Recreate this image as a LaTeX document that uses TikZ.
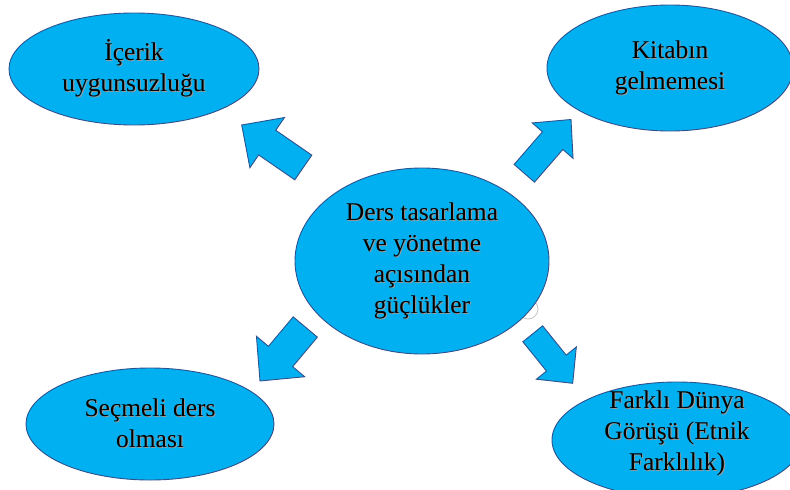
\documentclass[tikz,border=0pt]{standalone}
\usepackage{fontspec}
\setmainfont{Liberation Serif}
\usetikzlibrary{shapes.geometric,calc}

\definecolor{bubble}{HTML}{00B0F0}
\definecolor{rim}{HTML}{2F528F}

% one line of text with a soft drop shadow
\newcommand\shline[1]{\leavevmode\rlap{\kern1.1pt\raisebox{-1.1pt}{\textcolor{black!40}{#1}}}#1}

\tikzset{
  bubble/.style={ellipse, draw=rim, line width=0.9pt, fill=bubble,
    inner sep=0pt, align=center, text=black,
    font=\fontsize{25.5}{31}\selectfont},
  blockarrow/.style={draw=rim, line width=0.9pt, fill=bubble, line join=miter}
}

% block arrow from tail coordinate #1 to tip coordinate #2
% #3 shaft half-width, #4 head half-width, #5 head length
\newcommand\blockarrow[5]{%
  \coordinate (hb) at ($(#2)!#5!(#1)$);
  \filldraw[blockarrow]
    (#2)
    -- ($(hb)!#4!90:(#2)$)
    -- ($(hb)!#3!90:(#2)$)
    -- ($(#1)!#3!90:(#2)$)
    -- ($(#1)!#3!-90:(#2)$)
    -- ($(hb)!#3!-90:(#2)$)
    -- ($(hb)!#4!-90:(#2)$)
    -- cycle;
}

\begin{document}
\begin{tikzpicture}[x=1pt,y=-1pt]
  \useasboundingbox (0,0) rectangle (790,490);

  % small handle ring behind the central ellipse
  \draw[gray!45, line width=0.8pt] (528,309) circle[radius=10pt];

  \node[bubble, minimum width=254pt, minimum height=186pt] (center) at (422,261)
    {\shline{Ders tasarlama}\\\shline{ve yönetme}\\\shline{açısından}\\\shline{güçlükler}};

  \node[bubble, minimum width=250pt, minimum height=112pt] (content) at (134,69)
    {\shline{İçerik}\\\shline{uygunsuzluğu}};
  \node[bubble, minimum width=246pt, minimum height=126pt] (book) at (670,68)
    {\shline{Kitabın}\\\shline{gelmemesi}};
  \node[bubble, minimum width=248pt, minimum height=112pt] (elective) at (150,424)
    {\shline{Seçmeli ders}\\\shline{olması}};
  \node[bubble, minimum width=250pt, minimum height=116pt,
        label={[bubble, draw=none, fill=none, yshift=6pt]center:%
          {\shline{Farklı Dünya}\\\shline{Görüşü (Etnik}\\\shline{Farklılık)}}}]
    (world) at (677,440) {};

  % arrow ends
  \coordinate (tlTail) at (303.3,167.5);
  \coordinate (tlTip)  at (241.7,125);
  \coordinate (trTail) at (524.3,173.3);
  \coordinate (trTip)  at (571,119.5);
  \coordinate (blTail) at (305.3,327);
  \coordinate (blTip)  at (260,381);
  \coordinate (brTail) at (532.7,333.8);
  \coordinate (brTip)  at (572.7,383.3);

  \blockarrow{tlTail}{tlTip}{15pt}{30.5pt}{31pt}
  \blockarrow{trTail}{trTip}{13.5pt}{27pt}{28pt}
  \blockarrow{blTail}{blTip}{15.8pt}{31.5pt}{32pt}
  \blockarrow{brTail}{brTip}{12.7pt}{25.7pt}{26pt}
\end{tikzpicture}
\end{document}
